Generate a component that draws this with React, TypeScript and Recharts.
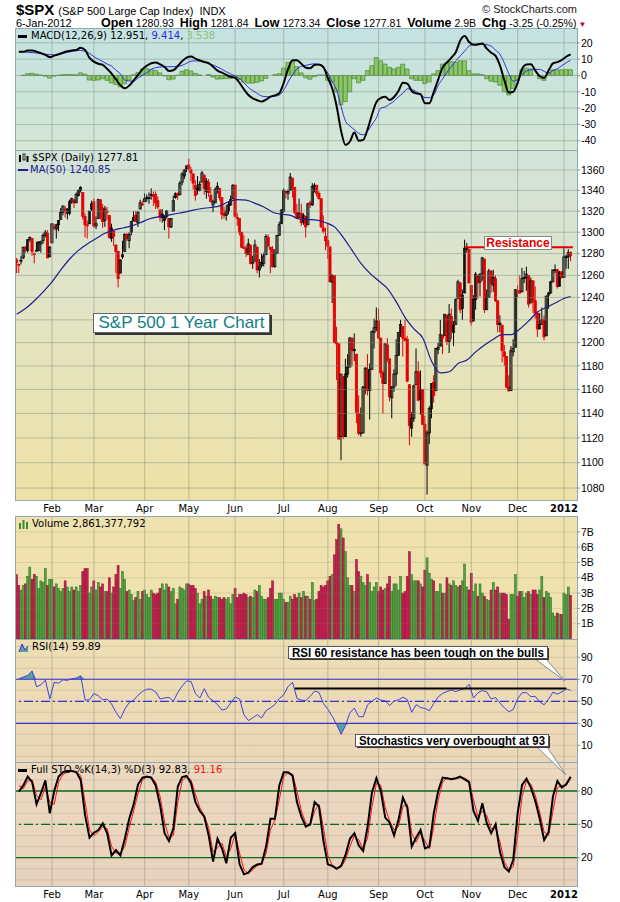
import React from "react";
import { ComposedChart, Bar, Line, Area, XAxis, YAxis, ReferenceLine } from "recharts";

const FONT = "'Liberation Sans', Arial, sans-serif";
const LABEL_FONT = "'DejaVu Sans', Verdana, sans-serif";
const GRID = "rgba(120,140,125,0.45)";
const FAINT = "rgba(140,130,100,0.22)";
const AXIS = "#7f9aa6";

// first trading day of each month (index into the daily arrays)
const monthIdx = [16, 35, 58, 78, 99, 121, 141, 164, 185, 206, 227, 248];
const monthLabels = ["Feb", "Mar", "Apr", "May", "Jun", "Jul", "Aug", "Sep", "Oct", "Nov", "Dec", "2012"];

const prevClose = 1274;
// daily candles, 7-Jan-2011 .. 6-Jan-2012
const opens = [
  1274,1270,1273,1276,1286,1283,1293,1294,1280,1283,1283,1289,1292,1297,1299,1277,
  1290,1305,1303,1307,1312,1319,1322,1318,1318,1329,1331,1328,1335,1340,1338,1315,1307,1308,1322,
  1329,1306,1313,1331,1323,1311,1319,1316,1294,1301,1288,1282,1262,1277,1282,1298,1292,1300,1311,1316,1309,1322,1327,
  1329,1333,1332,1336,1335,1336,1330,1321,1317,1311,1315,1313,1305,1320,1333,1337,1336,1348,1354,1361,
  1365,1360,1356,1345,1342,1340,1348,1355,1339,1348,1335,1326,1328,1342,1342,1333,1318,1316,1320,1326,1332,
  1345,1314,1313,1300,1286,1285,1279,1288,1272,1273,1286,1265,1269,1271,1279,1295,1286,1284,1268,1280,1297,1308,
  1320,1339,1337,1340,1352,1343,1319,1314,1318,1309,1315,1307,1328,1326,1344,1345,1337,1332,1304,1296,
  1292,1286,1254,1260,1200,1199,1121,1171,1121,1173,1179,1204,1193,1190,1140,1124,1124,1162,1177,1159,1177,1209,1213,
  1219,1204,1174,1165,1198,1186,1153,1162,1173,1189,1209,1214,1204,1203,1164,1128,1136,1164,1175,1152,1160,
  1131,1098,1124,1144,1166,1159,1194,1197,1206,1206,1224,1201,1223,1209,1216,1239,1253,1230,1244,1284,1284,
  1251,1219,1238,1260,1254,1262,1275,1229,1240,1264,1251,1257,1237,1217,1215,1192,1188,1162,1159,1192,1196,
  1246,1246,1245,1257,1258,1260,1235,1255,1237,1226,1212,1216,1220,1206,1242,1244,1254,1265,1265,1250,1263,
  1258,1277,1277,1281,
];
const highs = [
  1276,1271,1278,1286,1287,1293,1296,1294,1281,1291,1291,1292,1299,1302,1302,1287,
  1308,1308,1308,1311,1323,1325,1325,1323,1331,1333,1331,1338,1341,1344,1338,1318,1311,1320,1330,
  1332,1315,1332,1331,1327,1325,1324,1316,1308,1302,1288,1282,1275,1292,1299,1299,1300,1311,1320,1320,1320,1331,1330,
  1337,1336,1338,1342,1339,1339,1334,1322,1322,1316,1321,1313,1313,1335,1338,1338,1349,1358,1361,1364,
  1371,1363,1357,1350,1354,1349,1359,1355,1352,1351,1343,1331,1343,1348,1342,1333,1324,1326,1329,1335,1346,
  1346,1318,1313,1300,1297,1288,1294,1288,1278,1293,1286,1275,1280,1281,1298,1298,1286,1287,1284,1297,1310,1322,
  1342,1340,1341,1357,1352,1343,1327,1332,1327,1318,1315,1328,1330,1347,1347,1345,1339,1332,1316,1304,
  1308,1287,1261,1260,1214,1199,1173,1171,1186,1190,1205,1204,1208,1190,1155,1145,1163,1179,1190,1182,1210,1221,1231,
  1230,1204,1176,1199,1204,1186,1163,1177,1203,1209,1220,1214,1220,1206,1164,1141,1164,1195,1184,1176,1160,
  1138,1126,1146,1165,1172,1195,1200,1220,1207,1225,1224,1234,1230,1219,1239,1256,1254,1247,1293,1290,1284,
  1251,1242,1263,1260,1262,1277,1275,1247,1266,1264,1265,1260,1237,1224,1216,1198,1188,1172,1197,1203,1247,
  1251,1260,1267,1264,1268,1260,1258,1255,1250,1226,1226,1231,1224,1242,1245,1255,1265,1270,1266,1264,1264,
  1285,1279,1284,1282,
];
const lows = [
  1262,1262,1270,1275,1281,1281,1291,1278,1271,1282,1282,1281,1289,1295,1276,1277,
  1290,1302,1294,1301,1312,1316,1314,1312,1316,1327,1323,1328,1334,1338,1312,1295,1294,1308,1320,
  1304,1303,1313,1312,1304,1305,1312,1294,1291,1287,1262,1249,1262,1275,1282,1292,1285,1297,1310,1310,1305,1322,1325,
  1329,1329,1327,1331,1325,1322,1322,1310,1309,1302,1313,1294,1304,1320,1332,1331,1335,1345,1351,1358,
  1359,1349,1341,1330,1336,1339,1348,1336,1332,1334,1329,1319,1328,1337,1330,1312,1313,1311,1317,1325,1332,
  1314,1306,1297,1285,1284,1277,1279,1270,1266,1273,1262,1258,1267,1268,1279,1286,1262,1267,1267,1280,1297,1308,
  1318,1332,1331,1340,1333,1317,1313,1314,1306,1307,1295,1307,1323,1325,1338,1334,1331,1304,1299,1283,
  1275,1254,1235,1200,1168,1119,1102,1119,1121,1170,1179,1180,1184,1132,1122,1121,1124,1156,1155,1135,1177,1195,1210,
  1203,1170,1140,1165,1183,1150,1136,1158,1163,1189,1205,1188,1201,1166,1114,1121,1133,1164,1150,1139,1131,
  1099,1075,1115,1136,1149,1159,1190,1197,1190,1206,1198,1191,1203,1197,1216,1239,1226,1220,1244,1281,1253,
  1215,1219,1229,1239,1241,1255,1226,1229,1240,1244,1245,1236,1209,1209,1183,1180,1161,1158,1159,1188,1196,
  1240,1243,1245,1253,1246,1231,1235,1226,1221,1205,1212,1216,1202,1206,1230,1243,1254,1262,1248,1250,1257,
  1258,1266,1266,1273,
];
const closes = [
  1272,1270,1274,1286,1284,1293,1295,1282,1280,1283,1291,1291,1297,1300,1276,1286,
  1308,1304,1307,1311,1319,1325,1321,1322,1329,1332,1328,1336,1340,1343,1315,1307,1306,1320,1327,
  1306,1308,1331,1321,1310,1322,1320,1295,1304,1296,1282,1257,1274,1279,1298,1294,1298,1310,1314,1310,1319,1328,1326,
  1332,1333,1333,1336,1334,1328,1324,1314,1314,1315,1320,1305,1313,1330,1337,1335,1347,1356,1360,1364,
  1361,1357,1347,1335,1340,1346,1357,1342,1349,1338,1329,1329,1341,1344,1333,1317,1316,1320,1326,1331,1345,
  1315,1313,1300,1286,1285,1280,1289,1271,1272,1288,1265,1268,1272,1278,1296,1287,1284,1268,1280,1297,1307,1321,
  1340,1338,1339,1353,1344,1319,1314,1318,1309,1316,1305,1327,1326,1344,1345,1337,1332,1305,1301,1292,
  1287,1254,1260,1200,1199,1119,1173,1121,1173,1179,1204,1193,1194,1141,1124,1124,1162,1178,1159,1177,1210,1213,1219,
  1204,1174,1165,1199,1186,1154,1162,1173,1189,1209,1216,1204,1202,1167,1130,1136,1163,1175,1151,1160,1131,
  1099,1124,1144,1165,1155,1195,1196,1207,1204,1225,1201,1225,1210,1215,1238,1254,1229,1242,1285,1285,1253,
  1218,1238,1261,1253,1261,1276,1229,1240,1264,1252,1258,1237,1216,1216,1193,1188,1162,1159,1193,1195,1247,
  1245,1244,1257,1258,1261,1234,1255,1236,1226,1212,1216,1220,1205,1241,1244,1254,1265,1265,1250,1263,1258,
  1277,1277,1281,1278,
];
// daily volume, billions
const volumes = [
  4.2,3.5,3.2,3.5,3.6,4.1,4.7,3.9,4.2,4.1,3.3,3.8,3.7,4.6,3.5,3.9,
  3.9,3.4,3.6,3.3,3.1,3.3,3.8,3.4,3.1,3.4,3.2,3.4,3.1,3.5,4.4,4.6,4.6,3.0,3.4,
  3.8,3.2,3.7,3.4,3.6,3.1,3.1,4.0,3.0,3.4,4.2,4.8,3.3,4.4,3.9,3.1,3.2,2.9,2.5,2.7,3.1,2.6,3.1,
  3.2,2.9,2.7,3.2,3.0,2.9,3.0,3.3,3.6,3.2,3.6,3.4,3.1,3.3,2.3,2.6,3.4,3.3,3.2,3.6,
  3.6,3.5,3.5,3.3,3.0,2.3,2.6,3.1,2.8,3.2,2.8,2.6,2.8,2.7,2.7,2.6,2.7,2.6,2.7,2.3,2.9,
  3.3,2.7,2.9,2.9,3.0,2.9,2.7,2.8,2.7,3.2,3.1,3.5,2.8,2.6,2.6,2.7,3.3,3.8,2.6,2.6,3.0,3.0,
  2.6,2.4,2.4,2.8,2.6,2.9,2.7,3.0,2.7,3.1,2.8,2.8,2.6,3.7,2.5,2.6,3.1,3.5,3.4,3.5,
  3.8,4.1,4.2,5.5,6.5,7.5,7.2,6.6,5.7,4.0,3.5,3.5,3.1,5.2,4.4,4.1,3.7,3.5,4.2,3.7,3.1,3.4,3.7,
  3.1,3.4,3.2,3.3,3.6,4.1,3.1,3.6,3.6,3.2,4.1,3.0,3.1,4.1,5.7,4.2,3.8,3.8,3.8,3.6,3.4,
  4.5,5.3,4.3,3.9,3.8,3.1,3.1,3.6,3.0,3.0,4.0,3.6,3.5,3.8,3.5,3.4,3.5,3.8,4.9,3.4,3.2,
  4.3,3.1,3.6,2.8,3.6,3.0,2.8,2.6,2.5,3.2,3.7,3.2,3.4,3.0,3.0,3.0,2.9,1.3,2.9,2.9,4.2,
  2.8,3.1,3.1,2.7,3.0,3.1,2.9,3.2,3.2,2.9,3.2,4.1,2.7,3.1,3.0,2.7,1.7,1.5,1.7,1.6,1.6,
  3.0,2.9,3.4,2.86,
];
// MA(50), read every 4th session, last value at the final session
const maStep = 4;
const maValues = [
  1225,1230,1237,1245,1254,1265,1275,1283,1289,1294,1299,1302,1304,1306,1309,1312.5,
  1314.5,1316,1317.5,1319,1321,1322.5,1323.5,1325,1329,1331,1330.5,1327.5,1324,1319,1317,1316,
  1312.5,1312,1311.5,1309,1305,1295,1283,1271,1262,1255,1248,1236,1222,1212,1204,1184,
  1174,1175,1182,1185,1192,1198,1203,1207,1207,1212,1219,1227,1231,1235,1239,1240.85,
];
// indicators read every 2nd session (sessions 1, 3, 5 ... 251)
const macdLine = [
  14.6,14.6,15.3,15.3,14.6,13.7,12.6,11.2,12.2,13,14,14.8,15.3,15.6,17,15.6,10.8,8.5,7.2,6.5,
  4,1.2,-2.4,-6,-7.9,-6.2,-3,0.3,3.8,6,7.5,7.9,6.8,5.2,2.8,3.2,5.8,8.8,11,11.6,
  10.3,9.2,8.3,7.6,5.4,3,1.7,0.4,-0.8,-1.5,-4.5,-8.5,-12,-14,-15.2,-16,-14.8,-13,-12.2,-10.9,
  -4.5,4,9.3,9.4,7.2,4.8,4.5,6.5,6.8,5.1,-1.5,-8,-19,-34,-42.6,-40.5,-35,-40,-39.5,-33,
  -24,-16.3,-13.8,-13.1,-15,-13.2,-9.5,-4.5,-5,-9.5,-11,-11.5,-17,-17,-10,-2.5,4.8,8,11,14.4,
  21.5,24.2,20.5,18.8,19,19.6,16.5,14,12,6,-3,-10.5,-10,-4.5,4,6.8,6.9,3,-0.5,-1.5,
  3,7.4,8.2,9.5,11.5,12.95,
];
const macdSignal = [
  14.6,14.4,14.2,14,13.8,13.4,13,12.8,12.6,12.8,13.5,14.2,14.8,15.2,15.4,14.8,13.6,11.5,10,8.5,
  7,5.8,3.2,1,-2.8,-3.4,-3.5,-1.5,0,1.8,3.8,4.8,5.2,5.4,5.4,5.4,5.6,6.2,7.5,8.8,
  9,8.8,8.3,7,6.4,5.2,3.8,2.3,1,-0.4,-2,-4.5,-7.3,-9.3,-11,-12.6,-13,-13,-12.7,-12,
  -9,-4,0.5,4,5.6,6.2,6.8,7.2,6.5,4.8,1.5,-4,-9,-19,-28,-31,-33.2,-35.5,-36.4,-34,
  -30,-26,-20,-19.3,-17.5,-15.8,-13,-11,-8.2,-8.5,-9.9,-11.5,-13.5,-13.6,-12,-6,-2,2,5.5,9,
  12,15,18,19,19.3,19.2,18.9,18,15.5,13,7.5,1,-3.5,-2.5,0.5,2.8,3.5,3.7,3.8,2.5,
  1.3,3,4.2,6,7.8,9.41,
];
const macdHist = [
  0,0.2,1.1,1.3,0.8,0.3,-0.4,-1.6,-0.4,0.2,0.5,0.6,0.5,0.4,1.6,0.8,-2.8,-3,-2.8,-2,
  -3,-4.6,-5.6,-7,-5.1,-2.8,0.5,1.8,3.8,4.2,3.7,3.1,1.6,-0.2,-2.6,-2.2,0.2,2.6,3.5,2.8,
  1.3,0.4,0,0.6,-1,-2.2,-2.1,-1.9,-1.8,-1.1,-2.5,-4,-4.7,-4.7,-4.2,-3.4,-1.8,0,0.5,1.1,
  4.5,8,8.8,5.4,1.6,-1.4,-2.3,-0.7,0.3,0.3,-3,-4,-10,-18,-16,-10,-2,-4.5,-3,3,
  6,11,9,7,5,4,5,7,4,-2,-3,-3,-5,-4,1,3,7,8,8.5,8,
  9,9,3,1,1,0.5,-2,-3.5,-4,-6,-10,-12,-8,-3,3.5,4.5,4,0,-2,-3,
  2,3.5,3.5,3.5,3.6,3.54,
];
const rsiValues = [
  70.5,72,73.5,77.6,63.2,65,69.2,52.2,67.2,66.5,69.5,69,70.5,71,73.3,51,51.5,57,55,51.3,
  52,47.5,40,34.1,43,48.8,51,55.5,59,61,61,58.5,52,53,53.5,50,58,64,68.5,68,
  57,53,61.5,53.5,50.5,47,42,43,48.5,54,52,37.8,32.5,35,37.8,34.8,41.5,44,47,52.5,
  55.9,63.5,67.2,52.6,51,50.7,54.5,59.3,58,48,42.7,36.3,28.9,20,28,39.5,43.8,36,36,46.8,
  50,53,51,50.5,46,50.3,51.3,53.7,51.5,40,46.9,44.3,43.5,41.5,48,54,57.2,58.9,60.2,58.8,
  60.3,61.5,65.4,53,57.7,59.9,58.5,52,53.4,48.4,44,40.5,42.5,52.4,57.8,57.8,54.2,54.5,49.5,46.8,
  52,58.3,56.5,58.5,61.3,59.89,
];
const stoK = [
  79.4,85,92.9,88,68,78,89.5,59.9,80,93,97,98,98,97,90,58,38,42.5,44.9,51,
  42,22,26.9,22,37,55,68,86,92,93,92,85,67,42,35,46.4,84,92.5,93.5,87,
  70,62,56.9,40,16.4,37,28.4,15,38,42,14,5,6.5,11.5,13.8,14.6,30,55,55,85,
  96.8,96.8,93.8,70,57,48,50,70,66,35,14,12.5,10,12.6,22.4,37,42,31,26,48,
  79,91.5,80,56,51.5,40,54,74,65,30,38,44.9,28.4,30,60,80,92,91.4,90.5,91.5,
  93,90.5,88,62,53,68.9,51,42,50,25,11.5,7.5,18,60,85.4,91,83,71,55,35.9,
  43,75,89,83,86,92.83,
];
const stoD = [
  85,82,89,90,76,72,84,70,68,88,95,97,98,97,94,70,45,40,43,48,
  46,30,24,24,30,47,62,78,90,92.5,92.5,88,75,52,38,40,70,89,93,90,
  77,65,58,47,25,29,33,21,28,41,24,9,6,9,13,14,24,45,54,72,
  93,96.5,95,80,62,51,49,62,68,47,22,13,11,11.5,18,30,40,36,28,38,
  66,87,85,65,53,45,48,66,68,42,34,42,35,28,48,72,88,91.5,91,91,
  92,91.5,89,72,57,62,58,46,47,34,16,9,12,40,75,89,86,76,61,43,
  40,62,83,85,85,91.16,
];

const macdTicks = [20, 10, 0, -10, -20, -30, -40];
const priceTicks = [1080, 1100, 1120, 1140, 1160, 1180, 1200, 1220, 1240, 1260, 1280, 1300, 1320, 1340, 1360];
const volTicks = [1, 2, 3, 4, 5, 6, 7];
const rsiTicks = [10, 30, 50, 70, 90];
const stoTicks = [20, 50, 80];
const tenths = [0, 10, 20, 30, 40, 50, 60, 70, 80, 90, 100];

const X_DOMAIN: [number, number] = [-0.31, 253.89];
const MARGIN = { top: 0, right: 0, bottom: 0, left: 16 };
const yTick = { fontSize: 10.5, fill: "#000", fontFamily: FONT };

const Candle = (props: any) => {
  const { x, y, width, height, payload } = props;
  if (!payload || !(height > 0)) return null;
  const { open, close, high, low, prev } = payload;
  const cx = x + width / 2;
  const lh = Math.log(high);
  const ll = Math.log(low);
  const py = (p: number) => y + (height * (lh - Math.log(p))) / (lh - ll);
  const color = close >= prev ? "#000" : "#e40000";
  const top = py(Math.max(open, close));
  const bot = py(Math.min(open, close));
  const hollow = close > open;
  return (
    <g>
      <line x1={cx} x2={cx} y1={y} y2={y + height} stroke={color} strokeWidth={1} />
      <rect
        x={cx - 1.1}
        y={top}
        width={2.2}
        height={Math.max(bot - top, 0.8)}
        fill={hollow ? "none" : color}
        stroke={color}
        strokeWidth={0.8}
      />
    </g>
  );
};

const VolBar = (p: any) => {
  if (!p.payload || !(p.height > 0)) return null;
  const up = p.payload.up;
  return (
    <rect
      x={p.x}
      y={p.y}
      width={p.width}
      height={p.height}
      fill={up ? "#55a343" : "#cc1d52"}
      stroke={up ? "#2f6d22" : "#86102f"}
      strokeWidth={0.5}
    />
  );
};

const MonthTick = ({ x, y, payload }: any) => {
  const label = monthLabels[monthIdx.indexOf(payload.value)];
  return (
    <text
      x={x}
      y={y + 12}
      textAnchor="middle"
      fontSize={10}
      fontFamily={LABEL_FONT}
      fontWeight={label === "2012" ? "bold" : "normal"}
      fill="#000"
    >
      {label}
    </text>
  );
};

const monthLines = () => monthIdx.map((m) => <ReferenceLine key={"m" + m} x={m} stroke={GRID} />);

const panels = [
  { top: 29, height: 122, bg: "linear-gradient(#c3e2e1, #d5e7d4)" },
  { top: 151, height: 349, bg: "linear-gradient(#d2e3da, #e3e4c2 50%, #efe1a5)" },
  { top: 517, height: 122, bg: "#efe2ae" },
  { top: 640, height: 122, bg: "linear-gradient(#eedeb4, #ebd7b7)" },
  { top: 763, height: 123, bg: "linear-gradient(#ecd9c0, #e9d2bd)" },
];

const abs = (left: number, top: number, extra: React.CSSProperties = {}): React.CSSProperties => ({
  position: "absolute",
  left,
  top,
  whiteSpace: "nowrap",
  ...extra,
});

const hb: React.CSSProperties = { fontWeight: "bold", fontSize: 12.5, marginLeft: 6 };

export default function App() {
  const priceRows = closes.map((c, i) => ({
    i,
    range: [lows[i], highs[i]],
    open: opens[i],
    high: highs[i],
    low: lows[i],
    close: c,
    prev: i === 0 ? prevClose : closes[i - 1],
    ma: undefined as number | undefined,
  }));
  maValues.forEach((v, k) => {
    priceRows[Math.min(k * maStep, closes.length - 1)].ma = v;
  });
  const volRows = volumes.map((v, i) => ({
    i,
    vol: v,
    up: closes[i] >= (i === 0 ? prevClose : closes[i - 1]),
  }));
  const macdRows = macdLine.map((m, k) => ({ i: 2 * k + 1, macd: m, signal: macdSignal[k], hist: macdHist[k] }));
  const rsiRows = rsiValues.map((r, k) => ({ i: 2 * k + 1, rsi: r }));
  const stoRows = stoK.map((v, k) => ({ i: 2 * k + 1, k: v, d: stoD[k] }));

  const hiddenX = <XAxis dataKey="i" type="number" domain={X_DOMAIN} allowDataOverflow hide />;
  const monthX = (h: number) => (
    <XAxis
      dataKey="i"
      type="number"
      domain={X_DOMAIN}
      allowDataOverflow
      ticks={monthIdx}
      interval={0}
      height={h}
      axisLine={false}
      tickLine={false}
      tickSize={0}
      tickMargin={0}
      tick={MonthTick}
    />
  );
  const rightY = (props: any) => (
    <YAxis
      orientation="right"
      width={43}
      allowDataOverflow
      interval={0}
      axisLine={false}
      tickSize={3}
      tickMargin={1}
      tick={yTick}
      tickLine={{ stroke: AXIS }}
      {...props}
    />
  );

  return (
    <div style={{ position: "absolute", left: 0, top: 0, width: 620, height: 902, background: "#fff", fontFamily: FONT, color: "#000", overflow: "hidden" }}>
      {panels.map((p, k) => (
        <div
          key={k}
          style={{ position: "absolute", left: 15, top: p.top - 1, width: 563, height: p.height + 2, boxSizing: "border-box", border: "1px solid #8eaab5", background: p.bg }}
        />
      ))}

      {/* header */}
      <div style={abs(16, 1, { fontSize: 11 })}>
        <span style={{ fontSize: 15, fontWeight: "bold", marginRight: 4 }}>$SPX</span>(S&amp;P 500 Large Cap Index)&nbsp; INDX
      </div>
      <div style={{ position: "absolute", right: 43, top: 3, fontSize: 11, color: "#222" }}>© StockCharts.com</div>
      <div style={abs(16, 17, { fontSize: 11 })}>6-Jan-2012</div>
      <div style={abs(95, 16, { fontSize: 10.5 })}>
        <span style={hb}>Open</span> 1280.93<span style={hb}>High</span> 1281.84<span style={hb}>Low</span> 1273.34
        <span style={hb}>Close</span> 1277.81<span style={hb}>Volume</span> 2.9B<span style={hb}>Chg</span> -3.25 (-0.25%)
        <span style={{ color: "#b0102a", fontSize: 8, marginLeft: 2 }}>▼</span>
      </div>

      {/* MACD */}
      <div style={abs(0, 29)}>
        <ComposedChart width={620} height={122} data={macdRows} margin={MARGIN}>
          {hiddenX}
          {rightY({ domain: [-46.3, 28.5], ticks: macdTicks })}
          {macdTicks.map((t) => <ReferenceLine key={t} y={t} stroke={GRID} />)}
          {monthLines()}
          <Bar dataKey="hist" barSize={4} fill="#8cc768" stroke="#3b7a25" strokeWidth={0.6} isAnimationActive={false} />
          <Line dataKey="signal" type="monotone" stroke="#2f2fe0" strokeWidth={1} dot={false} isAnimationActive={false} />
          <Line dataKey="macd" type="monotone" stroke="#000" strokeWidth={2} dot={false} isAnimationActive={false} />
        </ComposedChart>
      </div>

      {/* price */}
      <div style={abs(0, 151)}>
        <ComposedChart width={620} height={366} data={priceRows} margin={MARGIN}>
          {monthX(17)}
          {rightY({ scale: "log", domain: [1070.7, 1378.8], ticks: priceTicks })}
          {priceTicks.map((t) => <ReferenceLine key={t} y={t} stroke={GRID} />)}
          {monthLines()}
          <Bar dataKey="range" barSize={3} shape={Candle} isAnimationActive={false} />
          <Line dataKey="ma" connectNulls type="monotone" stroke="#1d1d8f" strokeWidth={1.2} dot={false} isAnimationActive={false} />
          <ReferenceLine segment={[{ x: 203, y: 1286 }, { x: 252, y: 1286 }]} stroke="#e40000" strokeWidth={2} />
        </ComposedChart>
      </div>

      {/* volume */}
      <div style={abs(0, 517)}>
        <ComposedChart width={620} height={122} data={volRows} margin={MARGIN}>
          {hiddenX}
          {rightY({ domain: [0, 7.97], ticks: volTicks, tickFormatter: (v: number) => v + "B" })}
          {volTicks.map((t) => <ReferenceLine key={t} y={t} stroke={FAINT} />)}
          {monthLines()}
          <Bar dataKey="vol" barSize={2} shape={VolBar} isAnimationActive={false} />
        </ComposedChart>
      </div>

      {/* RSI */}
      <div style={abs(0, 640)}>
        <ComposedChart width={620} height={122} data={rsiRows} margin={MARGIN}>
          {hiddenX}
          {rightY({ domain: [-5.2, 105.7], ticks: rsiTicks })}
          {tenths.map((t) => <ReferenceLine key={t} y={t} stroke={FAINT} />)}
          {monthLines()}
          <Area dataKey={(d: any) => [70, Math.max(70, d.rsi)]} type="linear" fill="#5b9fa2" fillOpacity={1} stroke="none" isAnimationActive={false} />
          <Area dataKey={(d: any) => [Math.min(30, d.rsi), 30]} type="linear" fill="#5b9fa2" fillOpacity={1} stroke="none" isAnimationActive={false} />
          <ReferenceLine y={70} stroke="#3333d4" strokeWidth={1.2} />
          <ReferenceLine y={30} stroke="#3333d4" strokeWidth={1.2} />
          <ReferenceLine y={50} stroke="#3333d4" strokeWidth={1.2} strokeDasharray="9 3 2 3" />
          <Line dataKey="rsi" type="linear" stroke="#4040e0" strokeWidth={1} dot={false} isAnimationActive={false} />
          <ReferenceLine segment={[{ x: 126, y: 61.5 }, { x: 249, y: 61.5 }]} stroke="#000" strokeWidth={2} />
        </ComposedChart>
      </div>

      {/* Full STO */}
      <div style={abs(0, 763)}>
        <ComposedChart width={620} height={139} data={stoRows} margin={MARGIN}>
          {monthX(16)}
          {rightY({ domain: [-5.5, 105.2], ticks: stoTicks })}
          {tenths.map((t) => <ReferenceLine key={t} y={t} stroke={FAINT} />)}
          {monthLines()}
          <ReferenceLine y={80} stroke="#0a6a1e" strokeWidth={1.3} />
          <ReferenceLine y={20} stroke="#0a6a1e" strokeWidth={1.3} />
          <ReferenceLine y={50} stroke="#0a6a1e" strokeWidth={1.2} strokeDasharray="9 3 2 3" />
          <Line dataKey="d" type="linear" stroke="#ff1010" strokeWidth={1} dot={false} isAnimationActive={false} />
          <Line dataKey="k" type="linear" stroke="#000" strokeWidth={2} dot={false} isAnimationActive={false} />
        </ComposedChart>
      </div>

      {/* panel labels */}
      <div style={abs(18, 30, { fontFamily: LABEL_FONT, fontSize: 10 })}>
        <span style={{ display: "inline-block", width: 9, height: 3, background: "#000", verticalAlign: "middle", marginRight: 4 }} />
        MACD(12,26,9) 12.951, <span style={{ color: "#2a2ad8" }}>9.414</span>, <span style={{ color: "#8cc474" }}>3.538</span>
      </div>
      <div style={abs(18, 152, { fontFamily: LABEL_FONT, fontSize: 10 })}>
        <svg width={11} height={10} style={{ verticalAlign: "middle", marginRight: 3 }}>
          <rect x={1} y={2} width={2} height={7} fill="#000" />
          <rect x={5} y={1} width={2} height={6} fill="none" stroke="#000" strokeWidth={0.8} />
          <rect x={8.5} y={3} width={2} height={6} fill="#000" />
        </svg>
        $SPX (Daily) 1277.81
      </div>
      <div style={abs(18, 164, { fontFamily: LABEL_FONT, fontSize: 10, color: "#1d1d8f" })}>
        <span style={{ display: "inline-block", width: 10, height: 2, background: "#1d1d8f", verticalAlign: "middle", marginRight: 2 }} />
        MA(50) 1240.85
      </div>
      <div style={abs(18, 518, { fontFamily: LABEL_FONT, fontSize: 10 })}>
        <svg width={11} height={10} style={{ verticalAlign: "middle", marginRight: 3 }}>
          <rect x={1} y={4} width={2} height={6} fill="#3f8a30" />
          <rect x={4.5} y={1} width={2} height={9} fill="#3f8a30" />
          <rect x={8} y={3} width={2} height={7} fill="#3f8a30" />
        </svg>
        Volume 2,861,377,792
      </div>
      <div style={abs(18, 641, { fontFamily: LABEL_FONT, fontSize: 10 })}>
        <svg width={11} height={10} style={{ verticalAlign: "middle", marginRight: 3 }}>
          <polygon points="1,10 4,2 7,8 10,4 10,10" fill="#5b9fa2" />
          <polyline points="1,10 4,2 7,8 10,4" fill="none" stroke="#3333d4" strokeWidth={1} />
        </svg>
        RSI(14) 59.89
      </div>
      <div style={abs(18, 764, { fontFamily: LABEL_FONT, fontSize: 10 })}>
        <span style={{ display: "inline-block", width: 9, height: 3, background: "#000", verticalAlign: "middle", marginRight: 4 }} />
        Full STO %K(14,3) %D(3) 92.83, <span style={{ color: "#ff1010" }}>91.16</span>
      </div>

      {/* chart annotations */}
      <div
        style={abs(93, 313, {
          width: 177,
          height: 20,
          boxSizing: "border-box",
          background: "#fff",
          border: "1px solid #666",
          boxShadow: "2px 2px 0 #333",
          color: "#13807f",
          fontSize: 17,
          lineHeight: "18px",
          textAlign: "center",
        })}
      >
        S&amp;P 500 1 Year Chart
      </div>
      <div
        style={abs(484, 236, {
          width: 68,
          height: 14,
          boxSizing: "border-box",
          background: "#fff",
          border: "1px solid #888",
          color: "#e40000",
          fontSize: 12,
          fontWeight: "bold",
          lineHeight: "12px",
          textAlign: "center",
        })}
      >
        Resistance
      </div>
      <svg width={620} height={902} style={{ position: "absolute", left: 0, top: 0, pointerEvents: "none" }}>
        <polygon points="535,659 546,659 565,681" fill="#fff" stroke="#888" strokeWidth={1} />
        <rect x={290} y={648} width={259} height={12} fill="#333" />
        <rect x={288.5} y={646.5} width={259} height={12} fill="#fff" stroke="#555" />
        <text x={292} y={656.5} fontFamily={FONT} fontWeight="bold" fontSize={12} textLength={252} lengthAdjust="spacingAndGlyphs">
          RSI 60 resistance has been tough on the bulls
        </text>
        <polygon points="537,747 547,747 566,775" fill="#fff" stroke="#888" strokeWidth={1} />
        <rect x={357} y={736} width={193} height={12} fill="#333" />
        <rect x={355.5} y={734.5} width={193} height={12} fill="#fff" stroke="#555" />
        <text x={359} y={744.5} fontFamily={FONT} fontWeight="bold" fontSize={12} textLength={186} lengthAdjust="spacingAndGlyphs">
          Stochastics very overbought at 93
        </text>
      </svg>
    </div>
  );
}
